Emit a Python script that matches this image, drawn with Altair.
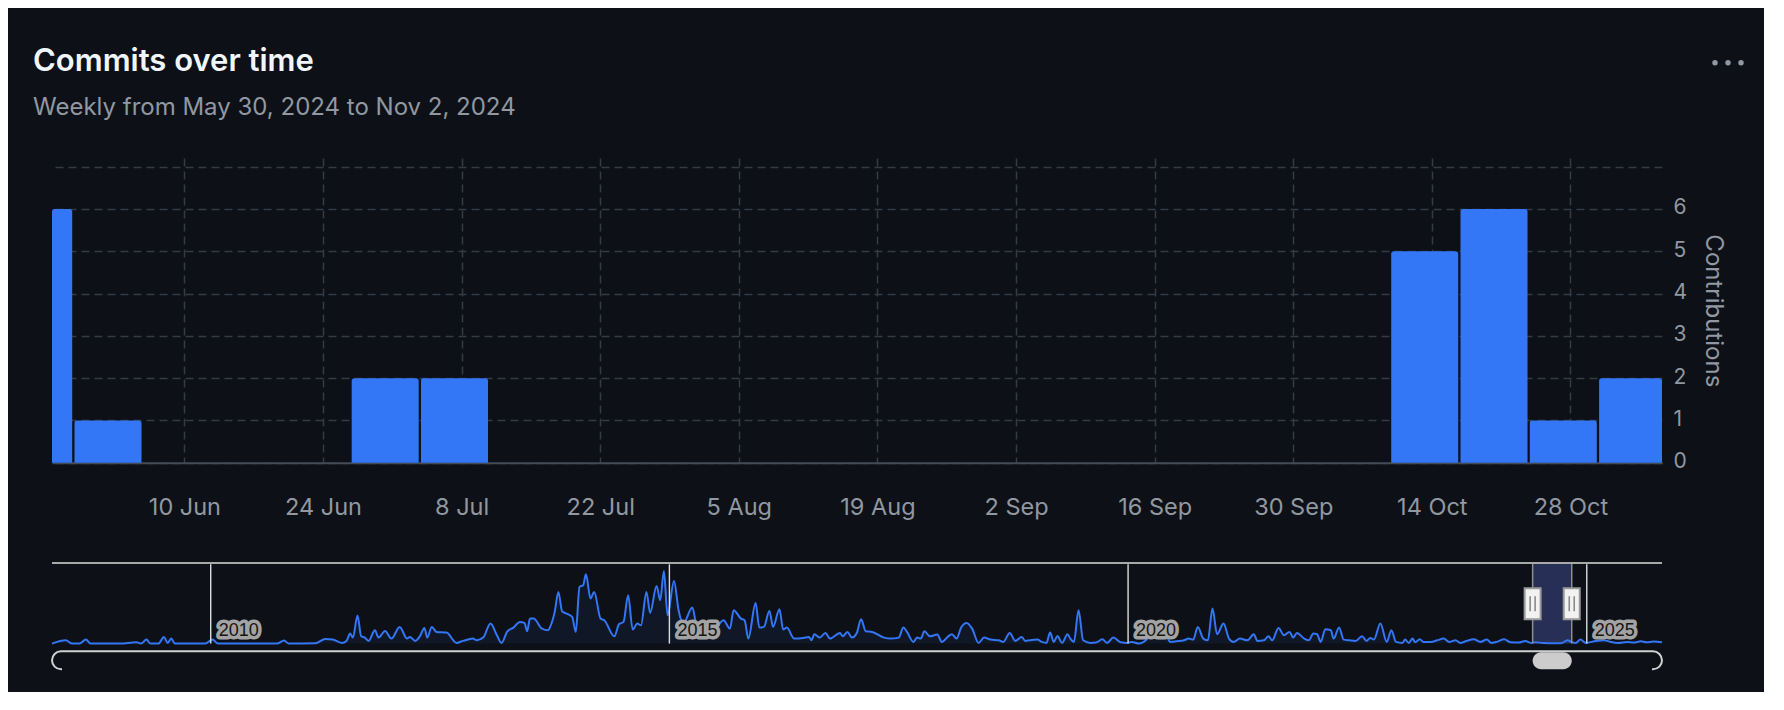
import altair as alt
import pandas as pd

# ---------------- data ----------------
# weekly commit totals (weeks start on Thursday)
week_starts = [
    "2024-05-23", "2024-05-30", "2024-06-06", "2024-06-13", "2024-06-20", "2024-06-27",
    "2024-07-04", "2024-07-11", "2024-07-18", "2024-07-25", "2024-08-01", "2024-08-08",
    "2024-08-15", "2024-08-22", "2024-08-29", "2024-09-05", "2024-09-12", "2024-09-19",
    "2024-09-26", "2024-10-03", "2024-10-10", "2024-10-17", "2024-10-24", "2024-10-31",
]
commits = [6, 1, 0, 0, 0, 2,
           2, 0, 0, 0, 0, 0,
           0, 0, 0, 0, 0, 0,
           0, 0, 5, 6, 1, 2]

x_tick_dates = ["2024-06-10", "2024-06-24", "2024-07-08", "2024-07-22", "2024-08-05",
                "2024-08-19", "2024-09-02", "2024-09-16", "2024-09-30", "2024-10-14",
                "2024-10-28"]
y_ticks = [0, 1, 2, 3, 4, 5, 6, 7]

title_text = "Commits over time"
subtitle_text = "Weekly from May 30, 2024 to Nov 2, 2024"
y_title = "Contributions"

# navigator: full history (decimal year, relative height)
nav_year = [
    2008.27, 2008.42, 2008.49, 2008.57, 2008.64, 2008.69, 2009.01, 2009.19, 2009.24, 2009.30,
    2009.34, 2009.43, 2009.49, 2009.53, 2009.57, 2009.61, 2009.77, 2009.94, 2010.02, 2010.08,
    2010.43, 2010.72, 2010.80, 2010.85, 2011.14, 2011.25, 2011.33, 2011.43, 2011.48, 2011.52,
    2011.55, 2011.60, 2011.64, 2011.68, 2011.72, 2011.79, 2011.83, 2011.90, 2011.97, 2012.06,
    2012.14, 2012.17, 2012.23, 2012.28, 2012.33, 2012.36, 2012.41, 2012.46, 2012.57, 2012.68,
    2012.75, 2012.86, 2012.90, 2012.97, 2013.05, 2013.12, 2013.17, 2013.23, 2013.30, 2013.37,
    2013.42, 2013.45, 2013.48, 2013.52, 2013.61, 2013.68, 2013.70, 2013.75, 2013.79, 2013.83,
    2013.88, 2013.94, 2013.98, 2014.02, 2014.06, 2014.09, 2014.14, 2014.18, 2014.25, 2014.29,
    2014.40, 2014.45, 2014.50, 2014.55, 2014.60, 2014.65, 2014.69, 2014.75, 2014.79, 2014.86,
    2014.90, 2014.94, 2014.98, 2015.05, 2015.10, 2015.15, 2015.25, 2015.30, 2015.37, 2015.47,
    2015.59, 2015.66, 2015.70, 2015.78, 2015.82, 2015.86, 2015.94, 2015.98, 2016.03, 2016.09,
    2016.13, 2016.20, 2016.24, 2016.28, 2016.36, 2016.46, 2016.52, 2016.55, 2016.58, 2016.64,
    2016.70, 2016.75, 2016.86, 2016.89, 2016.94, 2016.99, 2017.04, 2017.09, 2017.14, 2017.21,
    2017.34, 2017.41, 2017.50, 2017.55, 2017.59, 2017.66, 2017.70, 2017.74, 2017.78, 2017.84,
    2017.92, 2017.97, 2018.04, 2018.08, 2018.13, 2018.18, 2018.24, 2018.30, 2018.37, 2018.43,
    2018.50, 2018.59, 2018.64, 2018.71, 2018.77, 2018.84, 2018.88, 2018.93, 2019.01, 2019.06,
    2019.11, 2019.15, 2019.19, 2019.23, 2019.28, 2019.34, 2019.37, 2019.41, 2019.46, 2019.51,
    2019.59, 2019.65, 2019.72, 2019.77, 2019.84, 2019.92, 2019.99, 2020.04, 2020.12, 2020.17,
    2020.26, 2020.33, 2020.41, 2020.46, 2020.53, 2020.61, 2020.66, 2020.71, 2020.76, 2020.82,
    2020.87, 2020.92, 2020.97, 2021.04, 2021.10, 2021.15, 2021.22, 2021.30, 2021.37, 2021.41,
    2021.48, 2021.53, 2021.57, 2021.64, 2021.70, 2021.76, 2021.80, 2021.84, 2021.92, 2021.97,
    2022.02, 2022.06, 2022.10, 2022.15, 2022.21, 2022.24, 2022.30, 2022.35, 2022.41, 2022.48,
    2022.55, 2022.60, 2022.64, 2022.68, 2022.75, 2022.82, 2022.87, 2022.92, 2022.99, 2023.02,
    2023.06, 2023.10, 2023.13, 2023.18, 2023.22, 2023.30, 2023.37, 2023.44, 2023.50, 2023.57,
    2023.62, 2023.68, 2023.77, 2023.84, 2023.91, 2023.96, 2024.02, 2024.10, 2024.17, 2024.26,
    2024.33, 2024.39, 2024.43, 2024.52, 2024.62, 2024.72, 2024.79, 2024.84, 2024.88, 2024.93,
    2024.99, 2025.10, 2025.19, 2025.26, 2025.34, 2025.44, 2025.51, 2025.59, 2025.65, 2025.73,
    2025.82,
]
nav_value = [
    0, 3.3, 0, 0, 4, 0, 0, 1.3, 0, 4,
    0, 0, 6.7, 0.7, 5, 0, 0, 0, 4, 0,
    0, 0, 3, 0, 0.3, 4.7, 4, 0.7, 2.7, 10,
    6, 28, 7.3, 6, 2.7, 13.3, 6, 12.7, 5, 16.7,
    5, 6.7, 2.7, 7.3, 15.7, 6, 16.7, 11.7, 11, 0.7,
    2.7, 5, 3.3, 6, 20, 8.3, 0.7, 11.7, 16, 21.7,
    20.7, 12.3, 25, 25, 15, 13.3, 16.7, 31.7, 51.7, 32.3,
    30, 26.7, 11.7, 56.7, 58.3, 69.3, 45, 51.7, 25, 23.3,
    7.3, 19.3, 21.7, 48.3, 14, 20, 18.3, 51.7, 30.7, 57.7,
    43.3, 72.7, 28.3, 62.7, 33.3, 20, 36, 16.7, 13.3, 11.7,
    23.3, 15, 33.3, 25, 23.3, 5, 40.7, 16, 16.7, 32.7,
    16.7, 34.3, 14, 16, 5, 5.7, 6.7, 3.3, 9.3, 6,
    10.7, 5, 10.7, 7.3, 11.7, 6, 10, 24.3, 12.3, 11.7,
    6, 5, 6, 16, 11.7, 1.7, 6, 5, 12.3, 7.3,
    9, 1.7, 7.3, 9.3, 5, 16, 20.7, 15, 0.7, 6,
    4, 3.3, 1.7, 10.7, 2.7, 6.7, 2.7, 3.3, 4, 1.7,
    0.7, 11, 1.7, 7.7, 0.7, 9.3, 5, 1.7, 33.3, 3.3,
    0.7, 1, 4.3, 0.7, 6, 1.3, 0.7, 1.7, 0, 1.7,
    8.3, 7.3, 8.3, 1.7, 2.3, 3.3, 5, 4, 16.7, 5,
    3.3, 35, 9.3, 20, 5, 1.7, 5, 3.3, 9.3, 2.7,
    3.3, 7.3, 3.3, 15.7, 8.3, 11.7, 6, 10.7, 5, 3.3,
    10, 9.3, 1.7, 14.3, 13.3, 5, 16, 4, 3.3, 2.7,
    7.3, 2.7, 5.7, 4, 20, 1.7, 13.3, 1.7, 0.7, 4,
    0.7, 5, 1.3, 4.3, 1.7, 1.7, 3.3, 5, 1.7, 3.3,
    0.7, 2.3, 4.3, 1.7, 4, 0.7, 1.7, 4.3, 1.3, 1,
    2.7, 0.7, 1.3, 0.7, 0.3, 0.3, 3.3, 1.3, 0.7, 4,
    0.7, 2.7, 3.3, 1.7, 0.7, 1.7, 1, 2.3, 1.3, 2,
    1.3,
]
year_marks = [2010, 2015, 2020, 2025]
year_labels = ["2010", "2015", "2020", "2025"]
selection = ["2024-05-30", "2024-11-02"]

# ---------------- styling ----------------
BG = "#0d1117"
FG = "#f0f6fc"
MUTED = "#9198a1"
GRID = "#353b44"
BLUE = "#3376f6"
FONT = "Inter"

W = 1610
H_MAIN = 304.7
H_NAV = 80.6


def to_dt(s):
    y, m, d = (int(v) for v in s.split("-"))
    return alt.DateTime(year=y, month=m, date=d)


def dec_year(s):
    t = pd.Timestamp(s)
    start = pd.Timestamp(year=t.year, month=1, day=1)
    end = pd.Timestamp(year=t.year + 1, month=1, day=1)
    return t.year + (t - start) / (end - start)


# ---------------- main weekly bar chart ----------------
ws = pd.to_datetime(pd.Series(week_starts))
bars_df = pd.DataFrame({
    "x": (ws - pd.Timedelta(hours=2.5)).dt.strftime("%Y-%m-%dT%H:%M:%S"),
    "x2": (ws + pd.Timedelta(days=7) - pd.Timedelta(hours=8)).dt.strftime("%Y-%m-%dT%H:%M:%S"),
    "commits": commits,
})

x_scale = alt.Scale(domain=[alt.DateTime(year=2024, month=5, date=27, hours=15),
                            alt.DateTime(year=2024, month=11, date=6, hours=6)],
                    clamp=True)

bars = alt.Chart(bars_df).mark_rect(
    color=BLUE, cornerRadiusTopLeft=2.5, cornerRadiusTopRight=2.5
).encode(
    x=alt.X("x:T", scale=x_scale, title=None,
            axis=alt.Axis(values=[to_dt(s) for s in x_tick_dates], format="%-d %b",
                          labelFont=FONT, labelFontSize=23.5, labelColor=MUTED,
                          labelPadding=52, labelBaseline="alphabetic",
                          labelFlush=False, labelOverlap=False,
                          ticks=False, tickSize=0,
                          domain=True, domainColor="#454b54", domainWidth=2,
                          grid=True, gridColor=GRID, gridDash=[8, 5], gridWidth=1.5)),
    x2="x2:T",
    y=alt.Y("commits:Q", scale=alt.Scale(domain=[0, 7.206], nice=False),
            axis=alt.Axis(orient="right", values=y_ticks,
                          labelExpr="datum.value == 7 ? '' : datum.label",
                          labelFont=FONT, labelFontSize=21, labelColor=MUTED,
                          labelAlign="left", labelBaseline="alphabetic", labelOffset=5,
                          labelPadding=11, ticks=False, tickSize=0, domain=False,
                          grid=True, gridColor=GRID, gridDash=[8, 5], gridWidth=1.5,
                          title=y_title, titleFont=FONT, titleFontSize=24,
                          titleFontWeight="normal", titleColor=MUTED,
                          titleAngle=90, titlePadding=14)),
    y2=alt.datum(0),
)

one = alt.Data(values=[{"k": 0}])
title_mark = alt.Chart(one).mark_text(
    text=title_text, font=FONT, fontSize=31, fontWeight=600, color=FG,
    align="left", baseline="alphabetic"
).encode(x=alt.value(-19), y=alt.value(-87))
subtitle_mark = alt.Chart(one).mark_text(
    text=subtitle_text, font=FONT, fontSize=24, color=MUTED,
    align="left", baseline="alphabetic"
).encode(x=alt.value(-19), y=alt.value(-43))
dots = [
    alt.Chart(one).mark_circle(size=30, color=MUTED, opacity=1).encode(
        x=alt.value(1663 + 13 * i), y=alt.value(-95.3))
    for i in range(3)
]

main = alt.layer(bars, title_mark, subtitle_mark, *dots).properties(width=W, height=H_MAIN)

# ---------------- navigator ----------------
nav_df = pd.DataFrame({"year": nav_year, "value": nav_value})
sel_df = pd.DataFrame({"start": [dec_year(selection[0])], "end": [dec_year(selection[1])]})
edge_df = pd.DataFrame({"edge": [dec_year(s) for s in selection]})
yr_df = pd.DataFrame({"year": year_marks, "label": year_labels})

nx = alt.Scale(domain=[2008.27, 2025.82], nice=False, zero=False)
ny = alt.Scale(domain=[0, H_NAV], nice=False)

band = alt.Chart(sel_df).mark_rect(color="#282f56").encode(
    x=alt.X("start:Q", scale=nx, axis=None), x2="end:Q",
    y=alt.value(0), y2=alt.value(H_NAV))
area = alt.Chart(nav_df).mark_area(color=BLUE, opacity=0.07, interpolate="monotone").encode(
    x=alt.X("year:Q", scale=nx, axis=None), y=alt.Y("value:Q", scale=ny, axis=None))
line = alt.Chart(nav_df).mark_line(color=BLUE, strokeWidth=2, interpolate="monotone").encode(
    x=alt.X("year:Q", scale=nx, axis=None), y=alt.Y("value:Q", scale=ny, axis=None))
edges = alt.Chart(edge_df).mark_rule(color="#8e8e8e", strokeWidth=1.5).encode(
    x=alt.X("edge:Q", scale=nx, axis=None), y=alt.value(0), y2=alt.value(H_NAV))
yrules = alt.Chart(yr_df).mark_rule(color="#dcdcdc", strokeWidth=1.4).encode(
    x=alt.X("year:Q", scale=nx, axis=None), y=alt.value(1.3), y2=alt.value(H_NAV))
outline = alt.Chart(one).mark_rule(color="#a9a9a9", strokeWidth=2).encode(
    x=alt.value(0), x2=alt.value(W), y=alt.value(0))
halo = alt.Chart(yr_df).mark_text(
    align="left", baseline="middle", dx=8, font="Liberation Sans", fontSize=18,
    fill="#a3a3a3", stroke="#a3a3a3", strokeWidth=7, strokeJoin="round"
).encode(x=alt.X("year:Q", scale=nx, axis=None), y=alt.value(68), text="label:N")
ylabels = alt.Chart(yr_df).mark_text(
    align="left", baseline="middle", dx=8, font="Liberation Sans", fontSize=18,
    color="#151515"
).encode(x=alt.X("year:Q", scale=nx, axis=None), y=alt.value(68), text="label:N")

HANDLE = "M-0.516,-1L0.516,-1L0.516,1L-0.516,1Z"
GRIP = "M-0.16,-0.48L-0.16,0.48M0.16,-0.48L0.16,0.48"
handles = alt.Chart(edge_df).mark_point(
    shape=HANDLE, size=961, filled=True, fill="#f2f2f2", stroke="#9a9a9a",
    strokeWidth=2, opacity=1
).encode(x=alt.X("edge:Q", scale=nx, axis=None), y=alt.value(40.8))
grips = alt.Chart(edge_df).mark_point(
    shape=GRIP, size=961, filled=False, stroke="#8a8a8a", strokeWidth=1.6, opacity=1
).encode(x=alt.X("edge:Q", scale=nx, axis=None), y=alt.value(40.8))

scroll_outline = alt.Chart(one).mark_rect(
    fill="transparent", stroke="#d0d0d0", strokeWidth=2, cornerRadius=9
).encode(x=alt.value(0), x2=alt.value(W), y=alt.value(88.3), y2=alt.value(106.3))
scroll_cover = alt.Chart(one).mark_rule(color=BG, strokeWidth=4).encode(
    x=alt.value(10), x2=alt.value(W - 10), y=alt.value(106.3))
thumb = alt.Chart(sel_df).mark_rect(color="#cccccc", cornerRadius=8.5).encode(
    x=alt.X("start:Q", scale=nx, axis=None), x2="end:Q",
    y=alt.value(89.3), y2=alt.value(106.3))

nav = alt.layer(band, area, line, edges, yrules, outline, halo, ylabels,
                handles, grips, scroll_outline, scroll_cover, thumb
                ).properties(width=W, height=H_NAV)

chart = alt.vconcat(main, nav, spacing=100, bounds="flush").properties(
    padding={"left": 25, "top": 38, "right": 20, "bottom": 20},
    background=BG,
).configure_view(stroke=None)

chart.save("out.html", embed_options={"renderer": "svg", "actions": False})
